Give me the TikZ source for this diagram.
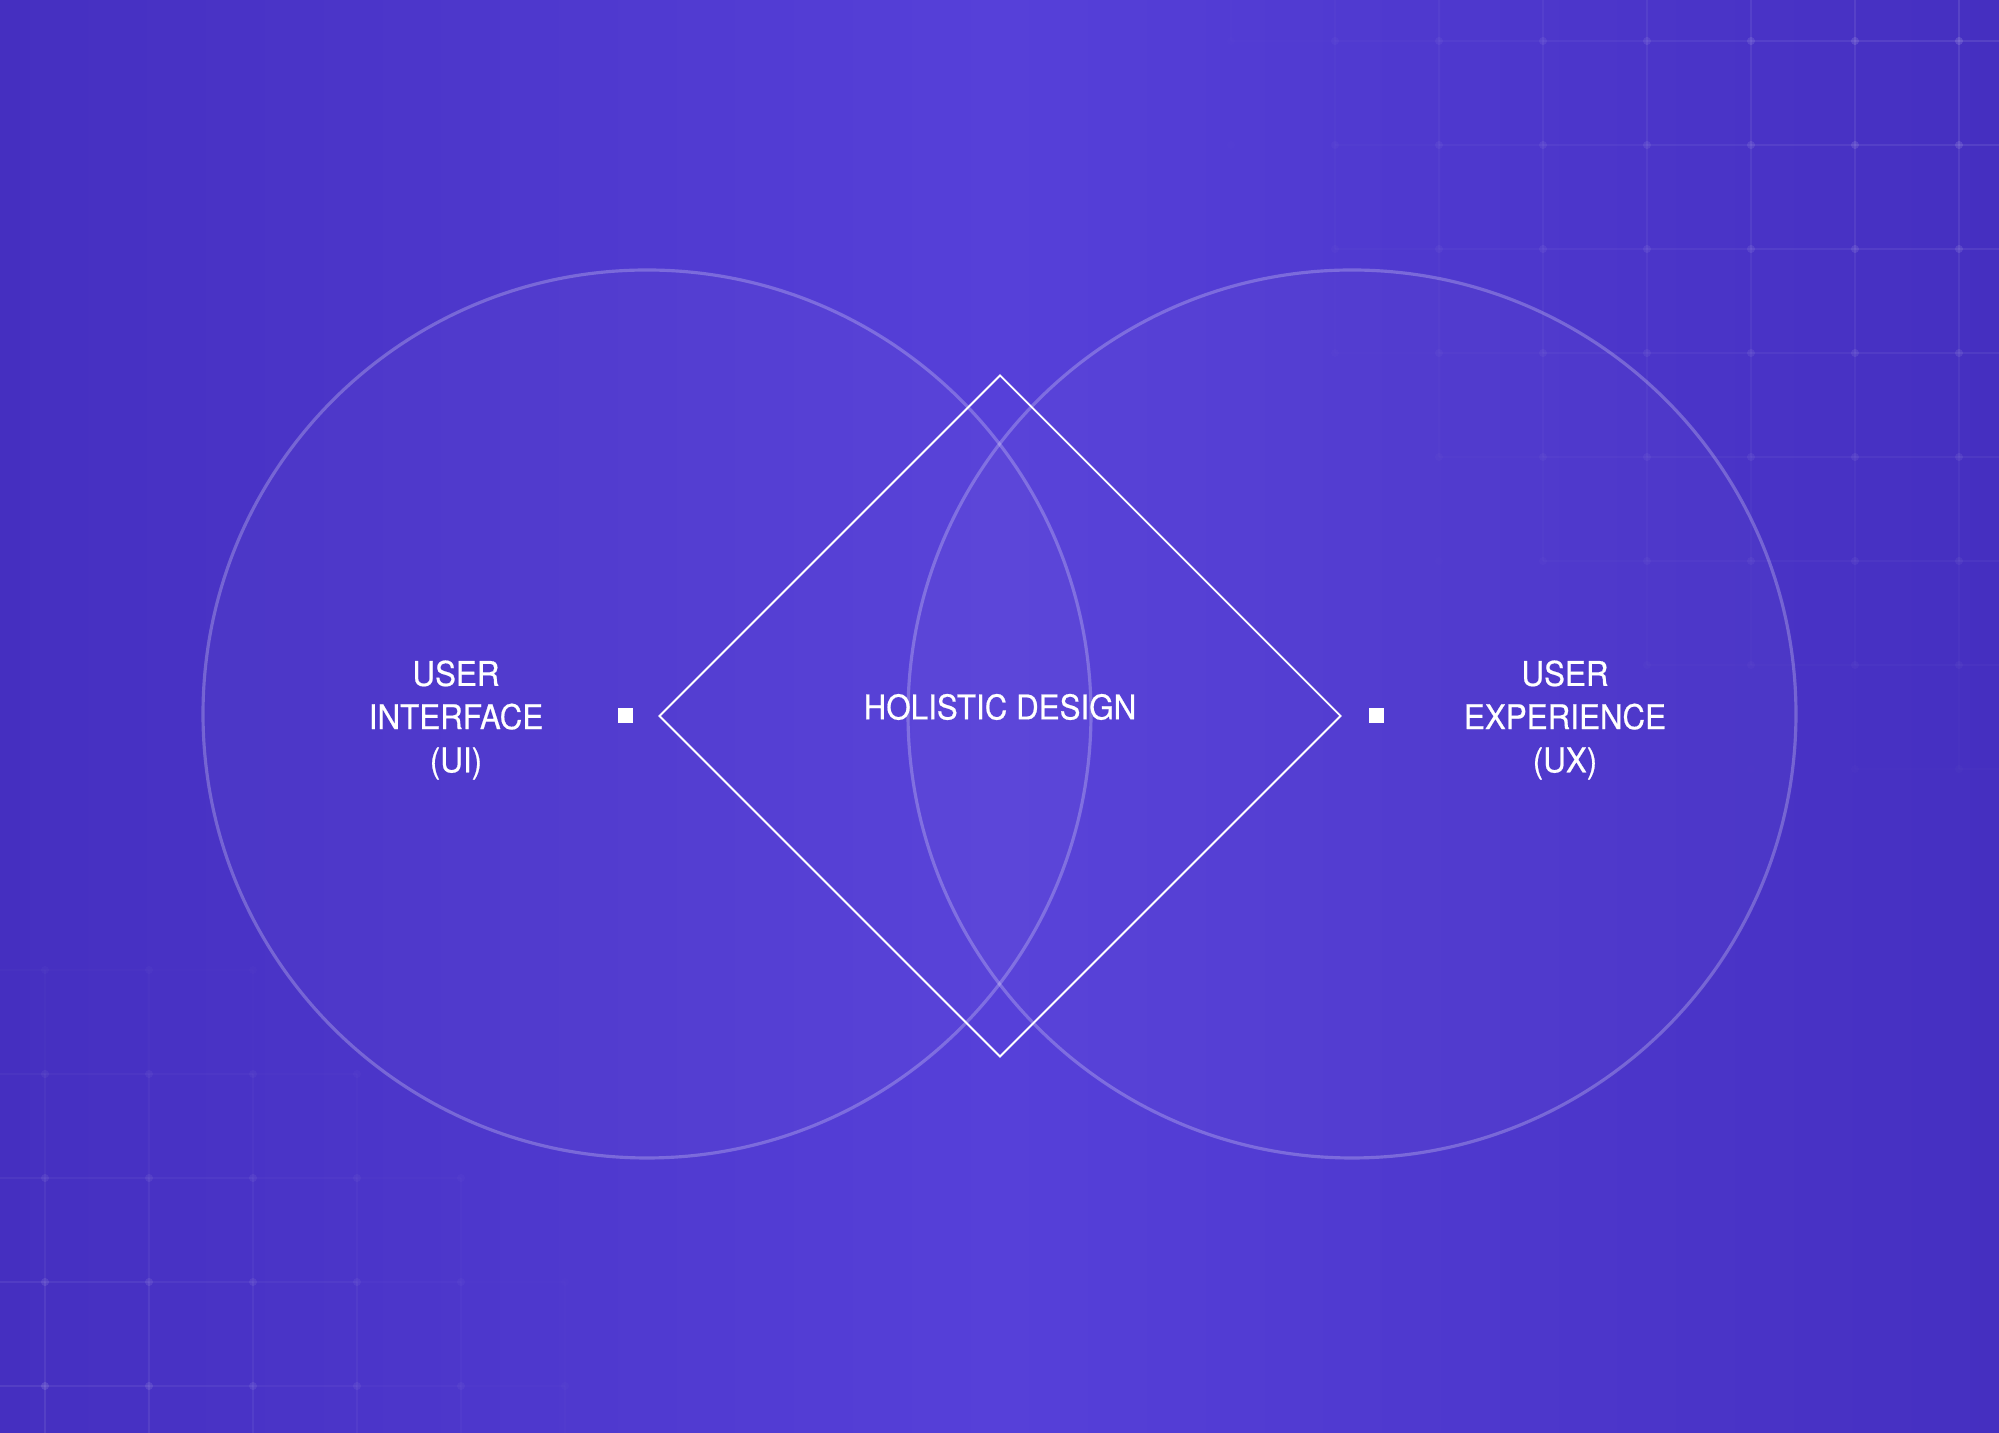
\documentclass[tikz,border=0pt]{standalone}
\usepackage{fontspec}
\setmainfont{TeX Gyre Heros}[FakeStretch=0.92, FakeBold=0.5]
\usetikzlibrary{shapes.geometric,positioning}
\definecolor{bgedge}{RGB}{69,47,192}
\definecolor{bgmid}{RGB}{86,64,217}

\tikzset{
  ring/.style={circle, draw=white, draw opacity=0.24, fill=white, fill opacity=0.02, line width=0.9pt, minimum size=8.88cm, inner sep=0pt},
  rhombus/.style={diamond, draw=white, line width=0.55pt, minimum width=6.82cm, minimum height=6.82cm, inner sep=0pt},
  marker/.style={rectangle, fill=white, minimum size=0.15cm, inner sep=0pt},
  caption/.style={text=white, align=center, font=\fontsize{9.7}{12.3}\selectfont},
  gridline/.style={draw=white, line width=0.5pt}
}

\begin{document}
\begin{tikzpicture}[x=1cm, y=-1cm]
  \useasboundingbox (0,0) rectangle (19.99,14.33);
  \clip (0,0) rectangle (19.99,14.33);
  \shade[left color=bgedge, right color=bgedge, middle color=bgmid] (0,0) rectangle (19.99,14.33);

  % faint grid, top right
  \foreach \i in {0,...,7} {
    \foreach \j in {0,...,7} {
      \pgfmathsetmacro{\gx}{12.31+1.04*\i}
      \pgfmathsetmacro{\gy}{0.41+1.04*\j}
      \pgfmathsetmacro{\op}{max(0,0.10*(1-sqrt(((19.99-\gx)/8.2)^2+(\gy/8.6)^2)))}
      \draw[gridline, draw opacity=\op] (\gx,\gy-1.04) -- (\gx,\gy);
      \draw[gridline, draw opacity=\op] (\gx,\gy) -- (\gx+1.04,\gy);
      \fill[white, opacity=1.4*\op] (\gx,\gy) circle (0.04);
    }
  }
  % faint grid, bottom left
  \foreach \i in {0,...,5} {
    \foreach \j in {0,...,4} {
      \pgfmathsetmacro{\gx}{0.45+1.04*\i}
      \pgfmathsetmacro{\gy}{13.86-1.04*\j}
      \pgfmathsetmacro{\op}{max(0,0.09*(1-sqrt((\gx/6.4)^2+((14.33-\gy)/5.6)^2)))}
      \draw[gridline, draw opacity=\op] (\gx,\gy) -- (\gx,\gy+1.04);
      \draw[gridline, draw opacity=\op] (\gx-1.04,\gy) -- (\gx,\gy);
      \fill[white, opacity=1.4*\op] (\gx,\gy) circle (0.04);
    }
  }

  \node[ring] (uicircle) at (6.47,7.14) {};
  \node[ring] (uxcircle) at (13.52,7.14) {};
  \node[rhombus] (holistic) at (10.00,7.16) {};

  \node[marker] (uidot) at (6.25,7.16) {};
  \node[marker] (uxdot) at (13.76,7.16) {};

  \node[caption] (uilabel) at (4.56,7.20) {USER\\INTERFACE\\(UI)};
  \node[caption] (holisticlabel) at (10.00,7.07) {HOLISTIC DESIGN};
  \node[caption] (uxlabel) at (15.65,7.20) {USER\\EXPERIENCE\\(UX)};
\end{tikzpicture}
\end{document}
